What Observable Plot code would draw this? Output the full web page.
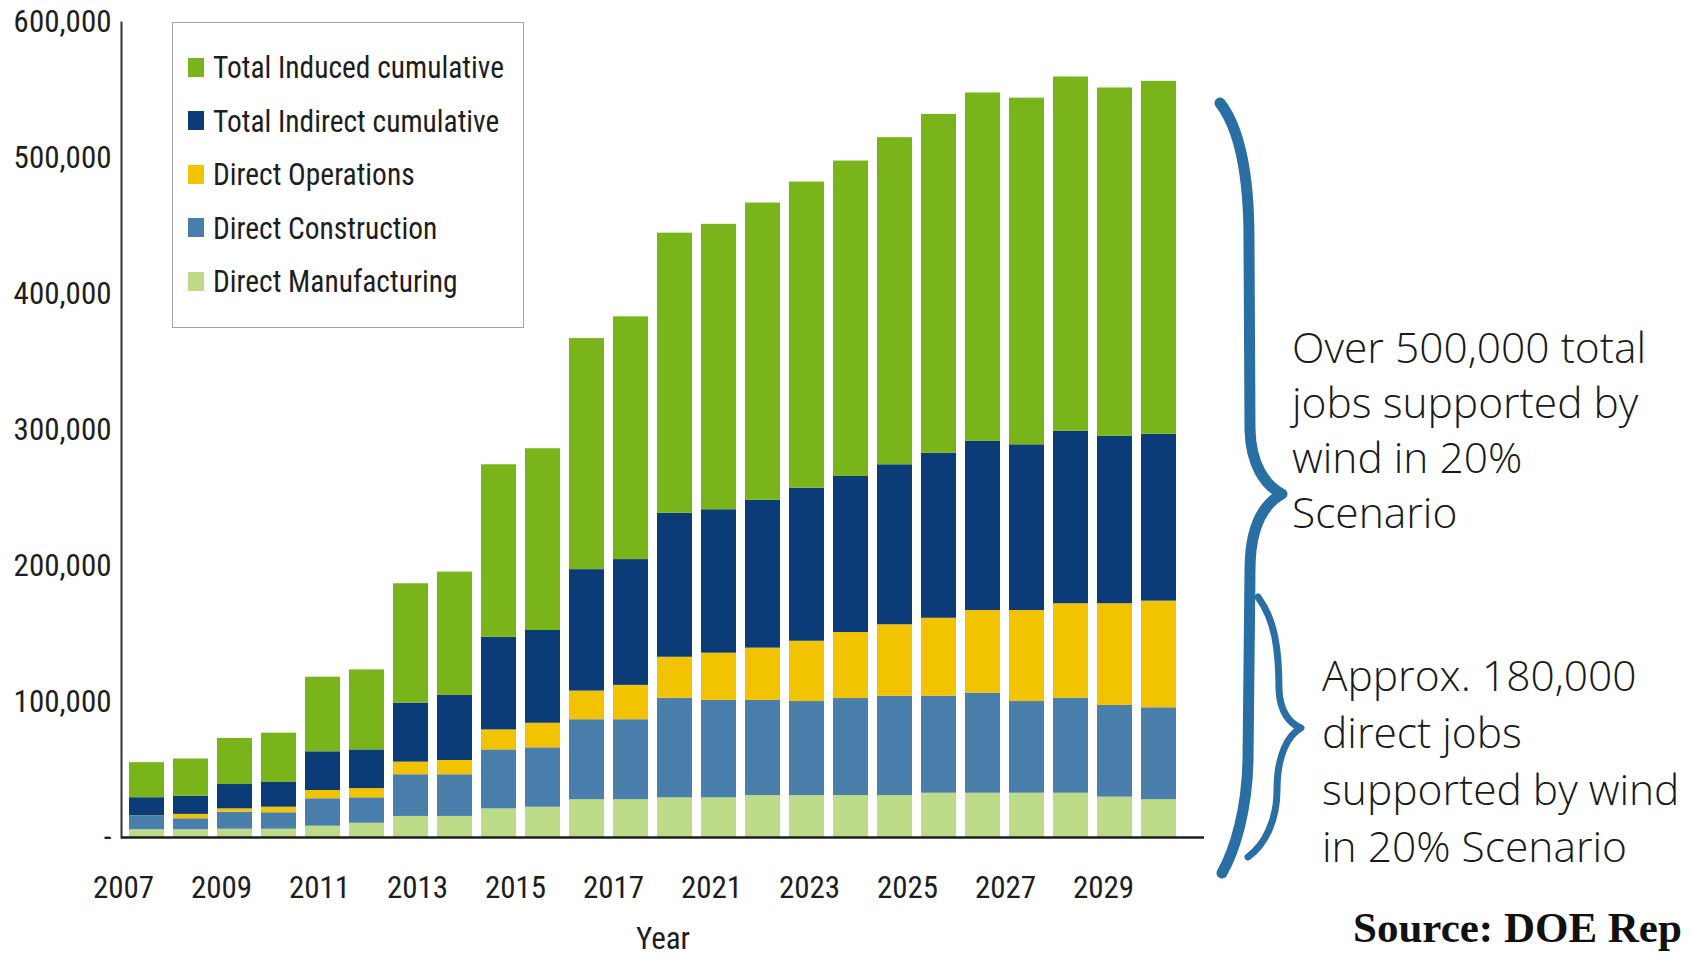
<!DOCTYPE html>
<html>
<head>
<meta charset="utf-8">
<script src="https://cdn.jsdelivr.net/npm/d3@7"></script>
<script src="https://cdn.jsdelivr.net/npm/@observablehq/plot@0.6"></script>
<style>
  html, body { margin: 0; padding: 0; background: #fff; }
  #wrap { position: relative; width: 1691px; height: 959px; overflow: hidden; background: #fff; }
  #wrap > svg, #wrap > div { position: absolute; }
  .legend { box-sizing: border-box; border: 1.5px solid #a3a3a3; background: #fff; }
  .legend .row { position: absolute; display: flex; align-items: center; height: 40px; white-space: nowrap; }
  .legend .sw { width: 16px; height: 19px; margin-right: 9px; flex: none; }
  .legend .tx { display: inline-block; transform: scaleX(0.92); transform-origin: left center; }
  .note { font-family: "Open Sans", "DejaVu Sans", sans-serif; font-weight: 300; color: #1a1a1a; white-space: nowrap; }
  .source { font-family: "Liberation Serif", "DejaVu Serif", serif; font-weight: bold; color: #111; white-space: nowrap; }
</style>
</head>
<body>
<div id="wrap"></div>
<script>
// ---- data ----
const years = ["2007","2008","2009","2010","2011","2012","2013","2014","2015","2016","2017","2018",
               "2019","2020","2021","2022","2023","2024","2025","2026","2027","2028","2029","2030"];
const xTickLabels = ["2007","2009","2011","2013","2015","2017","2021","2023","2025","2027","2029"];
const yTicks = [0, 100000, 200000, 300000, 400000, 500000, 600000];

const manufacturing = [5700, 5700, 6100, 6100, 8300, 10500, 15500, 15500, 21100, 22300, 27800, 27800,
                       29200, 29200, 30900, 30900, 30900, 30900, 32600, 32600, 32600, 32600, 29700, 27800];
const construction  = [9800, 8100, 12500, 12100, 20200, 18700, 30700, 30700, 43400, 43700, 58900, 58900,
                       73300, 71700, 70000, 69200, 71400, 73100, 71400, 73600, 67500, 70000, 67500, 67700];
const operations    = [300, 3200, 2500, 4100, 6100, 6800, 9300, 10500, 14700, 18100, 21100, 25300,
                       30200, 34800, 38500, 44400, 48600, 52600, 57400, 60900, 67000, 69500, 74900, 78500];
const indirect      = [13500, 13300, 17900, 18200, 28500, 28500, 43400, 47900, 68200, 68300, 89400, 92600,
                       106000, 105600, 108800, 112700, 114900, 117800, 121500, 124500, 122000, 126900, 123200, 122800];
const induced       = [25800, 27500, 33900, 36300, 54900, 58900, 87900, 90800, 127000, 133800, 170100, 178700,
                       206200, 210100, 218900, 225300, 232200, 240800, 249400, 256500, 255200, 260900, 256500, 259900];

const stackOrder = ["Direct Manufacturing", "Direct Construction", "Direct Operations",
                    "Total Indirect cumulative", "Total Induced cumulative"];
const colors = ["#bddb88", "#4a7fac", "#f2c300", "#0b3c77", "#78b41a"];
const seriesValues = [manufacturing, construction, operations, indirect, induced];

const data = [];
stackOrder.forEach((s, si) => years.forEach((y, i) => data.push({year: y, series: s, value: seriesValues[si][i]})));

const fontNarrow = '"Liberation Sans Narrow", "Arial Narrow", "Roboto Condensed", "Liberation Sans", Arial, sans-serif';
const wrap = document.getElementById("wrap");

// ---- main chart ----
const chart = Plot.plot({
  width: 1691, height: 959,
  marginLeft: 121, marginRight: 487, marginTop: 22, marginBottom: 122,
  style: {fontFamily: fontNarrow, fontSize: "31px", color: "#1e1e1e", background: "transparent", overflow: "visible"},
  x: {type: "band", domain: years, paddingInner: 0.21, paddingOuter: 0.245, align: 0.23, axis: null},
  y: {domain: [0, 600000]},
  color: {domain: stackOrder, range: colors},
  marks: [
    Plot.barY(data, {x: "year", y: "value", fill: "series", order: stackOrder}),
    Plot.axisY({ticks: yTicks, tickFormat: d => d === 0 ? "-" : d3.format(",")(d),
                tickSize: 0, tickPadding: 10, label: null, fontSize: 31}),
    Plot.frame({anchor: "left", stroke: "#333", strokeWidth: 2}),
    Plot.ruleY([0], {stroke: "#1e1e1e", strokeWidth: 2.5}),
    Plot.text(["Year"], {text: d => d, frameAnchor: "bottom", dy: 111, fontSize: 31, fill: "#1e1e1e"})
  ]
});
chart.style.left = "0px"; chart.style.top = "0px";
wrap.appendChild(chart);

// ---- x tick labels (as printed in the source, spaced independently of bars) ----
const xAxisPlot = Plot.plot({
  width: 1691, height: 122,
  marginLeft: 121, marginRight: 586, marginTop: 0, marginBottom: 121,
  style: {fontFamily: fontNarrow, fontSize: "31px", color: "#1e1e1e", background: "transparent", overflow: "visible"},
  x: {type: "point", domain: xTickLabels, padding: 0},
  marks: [Plot.axisX({tickSize: 0, tickPadding: 37, fontSize: 31, label: null})]
});
xAxisPlot.style.left = "0px"; xAxisPlot.style.top = "837px";
wrap.appendChild(xAxisPlot);

// ---- legend ----
const legend = document.createElement("div");
legend.className = "legend";
Object.assign(legend.style, {left: "172px", top: "22px", width: "352px", height: "306px", fontFamily: fontNarrow, fontSize: "32px", color: "#1e1e1e"});
const legendOrder = stackOrder.slice().reverse();
legendOrder.forEach((name, i) => {
  const row = document.createElement("div");
  row.className = "row";
  row.style.left = "15px";
  row.style.top = (44 + 53.6 * i - 20) + "px";
  const sw = document.createElement("div");
  sw.className = "sw";
  sw.style.background = colors[stackOrder.indexOf(name)];
  const tx = document.createElement("span");
  tx.className = "tx";
  tx.textContent = name;
  row.appendChild(sw); row.appendChild(tx);
  legend.appendChild(row);
});
wrap.appendChild(legend);

// ---- braces ----
const braceColor = "#2a6fa4";
const svg = d3.create("svg").attr("width", 1691).attr("height", 959)
  .style("left", "0px").style("top", "0px").style("pointer-events", "none");
svg.append("path")
  .attr("d", "M1220,103 C1241,130 1249,180 1249,240 L1250,430 C1251,465 1265,485 1282,494 C1262,505 1250,530 1250,570 L1248,760 C1247,810 1235,850 1222,873")
  .attr("fill", "none").attr("stroke", braceColor).attr("stroke-width", 11).attr("stroke-linecap", "round").attr("stroke-linejoin", "round");
svg.append("path")
  .attr("d", "M1258,597 C1275,620 1279,650 1279,690 C1280,712 1290,724 1301,728 C1288,735 1277,755 1277,790 C1277,820 1265,845 1248,857")
  .attr("fill", "none").attr("stroke", braceColor).attr("stroke-width", 7).attr("stroke-linecap", "round").attr("stroke-linejoin", "round");
wrap.appendChild(svg.node());

// ---- annotations ----
function note(lines, left, top, lh, size, cls) {
  const d = document.createElement("div");
  d.className = cls;
  Object.assign(d.style, {left: left + "px", top: top + "px", lineHeight: lh + "px", fontSize: size + "px"});
  d.innerHTML = lines.map(l => l.replace(/&/g, "&amp;")).join("<br>");
  wrap.appendChild(d);
}
note(["Over 500,000 total", "jobs supported by", "wind in 20%", "Scenario"], 1292, 319, 55, 42.5, "note");
note(["Approx. 180,000", "direct jobs", "supported by wind", "in 20% Scenario"], 1322, 646, 57, 42.5, "note");
note(["Source: DOE Rep"], 1353, 903, 50, 43, "source");
</script>
</body>
</html>
